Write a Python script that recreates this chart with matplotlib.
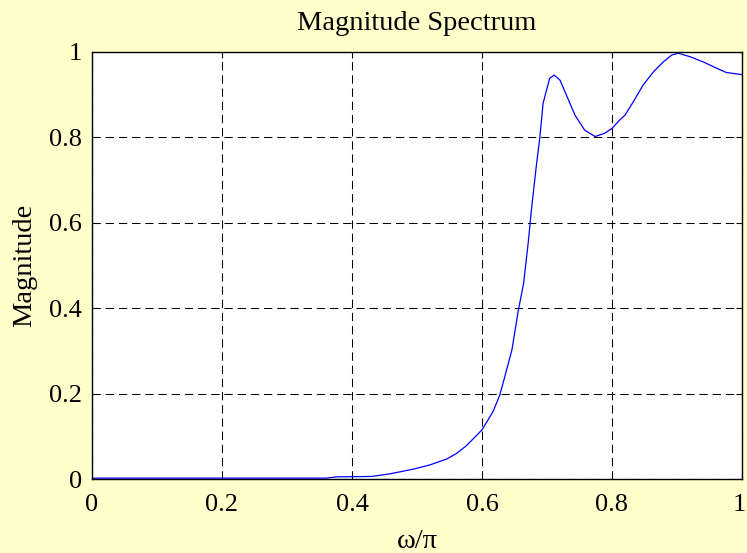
import matplotlib
matplotlib.use("Agg")
import matplotlib.pyplot as plt
import matplotlib.transforms as mtransforms

# Data (normalized frequency, magnitude)
omega = [0.0, 0.36, 0.377, 0.43, 0.458, 0.494, 0.52, 0.546, 0.561, 0.576,
         0.6, 0.617, 0.627, 0.633, 0.646, 0.656, 0.664, 0.671, 0.676, 0.684,
         0.689, 0.694, 0.704, 0.711, 0.72, 0.733, 0.743, 0.758, 0.774, 0.789,
         0.8, 0.812, 0.82, 0.833, 0.848, 0.864, 0.879, 0.892, 0.902, 0.92,
         0.94, 0.961, 0.976, 1.0]
magnitude = [0.002, 0.002, 0.005, 0.006, 0.012, 0.023, 0.033, 0.047, 0.06, 0.078,
             0.115, 0.158, 0.195, 0.228, 0.302, 0.396, 0.458, 0.552, 0.63, 0.739,
             0.80, 0.88, 0.938, 0.946, 0.934, 0.888, 0.852, 0.817, 0.802, 0.81,
             0.821, 0.841, 0.852, 0.884, 0.923, 0.954, 0.977, 0.993, 0.997, 0.989,
             0.977, 0.962, 0.952, 0.947]
xticks = [0, 0.2, 0.4, 0.6, 0.8, 1]
xticklabels = ["0", "0.2", "0.4", "0.6", "0.8", "1"]
yticks = [0, 0.2, 0.4, 0.6, 0.8, 1]
yticklabels = ["0", "0.2", "0.4", "0.6", "0.8", "1"]

plt.rcParams['font.family'] = ['Liberation Serif', 'DejaVu Serif']
plt.rcParams['lines.scale_dashes'] = False

fig = plt.figure(figsize=(7.47, 5.53), dpi=100, facecolor='#FFFFCC')
ax = fig.add_axes([92/747, 1 - 479/553, 650/747, 427/553])
ax.set_facecolor('white')

ax.plot(omega, magnitude, color='#0000FF', lw=0.9)

ax.set_xlim(0, 1)
ax.set_ylim(0, 1)
ax.set_xticks(xticks)
ax.set_xticklabels(xticklabels)
ax.set_yticks(yticks)
ax.set_yticklabels(yticklabels)
ax.grid(True, color='black', linestyle=(0, (6, 3.5)), linewidth=0.75)
ax.tick_params(direction='in', length=4, width=0.75, labelsize=19,
               top=True, right=True, colors='black')
ax.tick_params(axis='x', pad=11)
ax.tick_params(axis='y', pad=7)
for s in ax.spines.values():
    s.set_linewidth(1.0)
    s.set_color('black')

# keep the last x tick label inside the figure
last = ax.get_xticklabels()[-1]
last.set_transform(last.get_transform() +
                   mtransforms.ScaledTranslation(-2.5/100, 0, fig.dpi_scale_trans))

ax.set_title('Magnitude Spectrum', fontsize=20.5, pad=16)
ax.set_xlabel('ω/π', fontsize=20.5, labelpad=9)
ax.set_ylabel('Magnitude', fontsize=20.5, labelpad=9)

fig.savefig('out.png', dpi=100, facecolor=fig.get_facecolor())
